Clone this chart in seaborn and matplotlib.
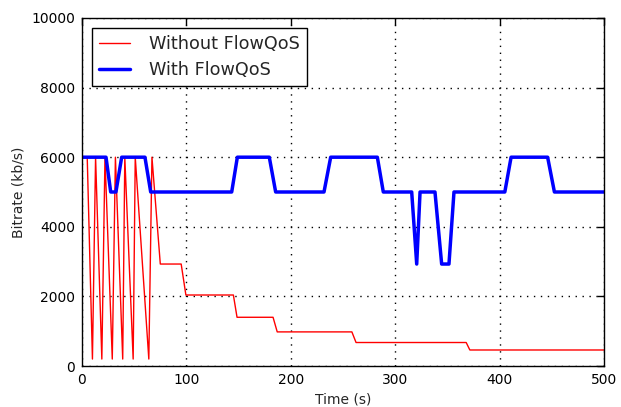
import matplotlib
matplotlib.use("Agg")
import matplotlib.pyplot as plt
import seaborn as sns
import pandas as pd

# Data
red_t = [0, 5, 10, 13, 19, 22, 29, 32, 39, 41, 49, 51, 64, 67, 75, 95, 99.5,
         145, 148.5, 183, 187, 258.5, 262.5, 368, 371.5, 500]
red_v = [6000, 6000, 200, 6000, 200, 6000, 200, 6000, 200, 6000, 200, 6000, 200, 6000,
         2930, 2930, 2040, 2040, 1400, 1400, 980, 980, 675, 675, 460, 460]

blue_t = [0, 23, 27.5, 32.5, 38, 60.3, 65.8, 143.4, 148.8, 179.4, 185.5, 231.8, 238.2,
          282.9, 288.6, 315.8, 320.6, 323.8, 338.1, 344.5, 351.5, 356.3, 405, 411,
          446, 452.5, 500]
blue_v = [6000, 6000, 5000, 5000, 6000, 6000, 5000, 5000, 6000, 6000, 5000, 5000, 6000,
          6000, 5000, 5000, 2930, 5000, 5000, 2930, 2930, 5000, 5000, 6000,
          6000, 5000, 5000]

labels = ["Without FlowQoS", "With FlowQoS"]
x_ticks = [0, 100, 200, 300, 400, 500]
y_ticks = [0, 2000, 4000, 6000, 8000, 10000]

sns.set_style("white")
plt.rcParams['font.family'] = ['DejaVu Sans']

fig = plt.figure(figsize=(6.21, 4.07), dpi=100)
ax = fig.add_axes([82 / 621, 1 - 366 / 407, (604 - 82) / 621, (366 - 18) / 407])

df_red = pd.DataFrame({"t": red_t, "v": red_v})
df_blue = pd.DataFrame({"t": blue_t, "v": blue_v})
sns.lineplot(data=df_red, x="t", y="v", color="#ff0000", linewidth=1.0,
             estimator=None, sort=False, ax=ax, label=labels[0])
sns.lineplot(data=df_blue, x="t", y="v", color="#0000ff", linewidth=2.5,
             estimator=None, sort=False, ax=ax, label=labels[1])

ax.set_xlim(0, 500)
ax.set_ylim(0, 10000)
ax.set_xticks(x_ticks)
ax.set_yticks(y_ticks)
ax.set_xlabel("Time (s)", fontsize=10)
ax.set_ylabel("Bitrate (kb/s)", fontsize=10)
ax.tick_params(direction="in", top=True, right=True, length=5, width=1,
               labelsize=10, colors="black", pad=5)
ax.grid(True, linestyle=(0, (1, 4)), color="black", linewidth=1)
for s in ax.spines.values():
    s.set_color("black")
    s.set_linewidth(1)

leg = ax.legend(loc="upper left", fontsize=12.7, fancybox=False, framealpha=1,
                edgecolor="black", handlelength=1.75, handletextpad=1.08,
                borderpad=0.4, labelspacing=0.45, borderaxespad=0.55)
leg.get_frame().set_linewidth(1)

fig.savefig("out.png", dpi=100)
